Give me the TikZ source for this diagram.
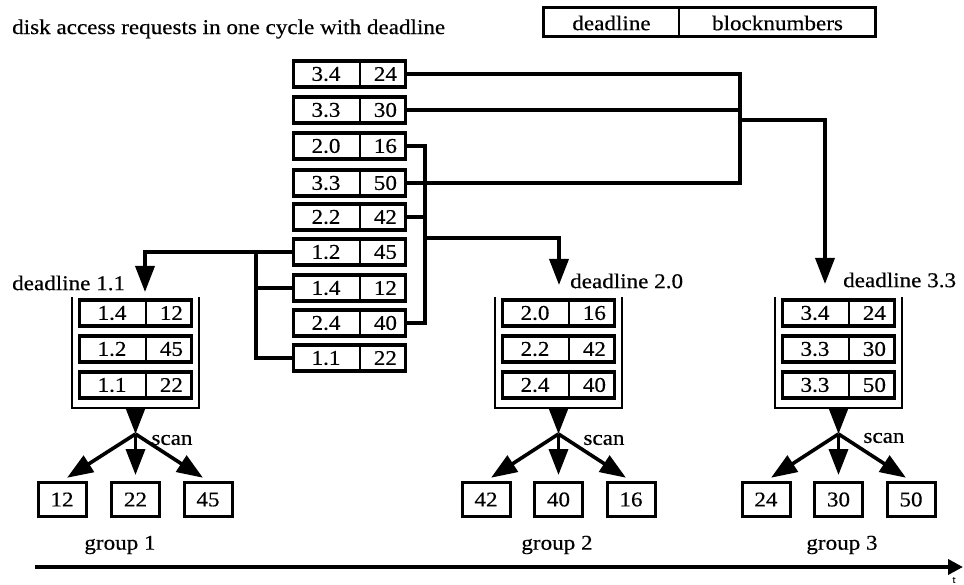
\documentclass[tikz,border=0pt]{standalone}
\usepackage{fontspec}
\setmainfont[FakeStretch=1.1,FakeBold=0.4]{Liberation Serif}
\usetikzlibrary{arrows.meta}
\tikzset{
  pframe/.style={draw, line width=3.4pt, inner sep=0pt, minimum height=26pt, minimum width=112pt, anchor=west},
  divline/.style={line width=2pt},
  txt/.style={inner sep=0pt, font=\fontsize{21}{24}\selectfont},
  conn/.style={line width=3.6pt, line join=miter},
  arr/.style={conn, -{Triangle[length=26pt,width=19pt]}},
  wall/.style={line width=2.4pt},
  outbox/.style={draw, line width=3pt, inner sep=0pt, minimum width=48pt, minimum height=34pt, font=\fontsize{21}{24}\selectfont},
}
% a request record: name, left x, centre y, deadline, block number
\newcommand\pairbox[5]{%
  \node[pframe] (#1) at (#2,#3) {};
  \draw[divline] ([xshift=68pt]#1.north west) -- ([xshift=68pt]#1.south west);
  \node[txt] (#1-d) at ([xshift=34pt]#1.west) {#4};
  \node[txt] (#1-b) at ([xshift=-22pt]#1.east) {#5};
}
\begin{document}
\begin{tikzpicture}[x=1pt,y=-1pt]
\useasboundingbox (0,0) rectangle (964,585);

% heading and legend
\node[txt, anchor=west] (title) at (12,29) {disk access requests in one cycle with deadline};
\node[draw, line width=3pt, inner sep=0pt, minimum width=332pt, minimum height=29pt] (legend) at (709,22.5) {};
\draw[divline] ([xshift=137pt]legend.north west) -- ([xshift=137pt]legend.south west);
\node[txt] (legend-d) at (611.5,23) {deadline};
\node[txt] (legend-b) at (777.5,23) {blocknumbers};

% incoming requests
\pairbox{r1}{292}{74}{3.4}{24}
\pairbox{r2}{292}{110}{3.3}{30}
\pairbox{r3}{292}{146}{2.0}{16}
\pairbox{r4}{292}{183}{3.3}{50}
\pairbox{r5}{292}{217}{2.2}{42}
\pairbox{r6}{292}{252}{1.2}{45}
\pairbox{r7}{292}{288}{1.4}{12}
\pairbox{r8}{292}{323}{2.4}{40}
\pairbox{r9}{292}{358}{1.1}{22}

% routing to deadline 3.3
\coordinate (m3) at (740,120);
\coordinate (in3) at (825,284);
\draw[conn] (r1.east) -- (r1.east -| m3) -- (r4.east -| m3) -- (r4.east);
\draw[conn] (r2.east) -- (r2.east -| m3);
\draw[arr] (m3) -| (in3);

% routing to deadline 2.0
\coordinate (m2) at (425,238);
\coordinate (in2) at (559,285);
\draw[conn] (r3.east) -- (r3.east -| m2) -- (r8.east -| m2) -- (r8.east);
\draw[conn] (r5.east) -- (r5.east -| m2);
\draw[arr] (m2) -| (in2);

% routing to deadline 1.1
\coordinate (m1) at (256,252);
\coordinate (in1) at (145,292);
\draw[conn] (r6.west) -- (m1) -- (r9.west -| m1) -- (r9.west);
\draw[conn] (r7.west) -- (r7.west -| m1);
\draw[arr] (m1) -| (in1);

% deadline labels
\node[txt, anchor=west] (dl1) at (12,283) {deadline 1.1};
\node[txt, anchor=west] (dl2) at (570,281) {deadline 2.0};
\node[txt, anchor=west] (dl3) at (843,280) {deadline 3.3};

% group 1 queue
\draw[wall] (72,297) |- (199,408) -- (199,297);
\pairbox{q11}{78}{313}{1.4}{12}
\pairbox{q12}{78}{349}{1.2}{45}
\pairbox{q13}{78}{385}{1.1}{22}
\coordinate (out1) at (135.5,408);
\coordinate (j1) at (135.5,434);

% group 2 queue
\draw[wall] (495,297) |- (622,408) -- (622,297);
\pairbox{q21}{501}{313}{2.0}{16}
\pairbox{q22}{501}{349}{2.2}{42}
\pairbox{q23}{501}{385}{2.4}{40}
\coordinate (out2) at (558.5,408);
\coordinate (j2) at (558.5,434);

% group 3 queue
\draw[wall] (775,297) |- (902,408) -- (902,297);
\pairbox{q31}{781}{313}{3.4}{24}
\pairbox{q32}{781}{349}{3.3}{30}
\pairbox{q33}{781}{385}{3.3}{50}
\coordinate (out3) at (838.5,408);
\coordinate (j3) at (838.5,434);

% scanned block order
\node[outbox] (o11) at (62,499.5) {12};
\node[outbox] (o12) at (135.5,499.5) {22};
\node[outbox] (o13) at (208,499.5) {45};
\node[outbox] (o21) at (486,499.5) {42};
\node[outbox] (o22) at (558.5,499.5) {40};
\node[outbox] (o23) at (631,499.5) {16};
\node[outbox] (o31) at (766,499.5) {24};
\node[outbox] (o32) at (838.5,499.5) {30};
\node[outbox] (o33) at (911,499.5) {50};

\foreach \g in {1,2,3}{
  \draw[arr] (out\g) -- (j\g);
  \foreach \k in {1,2,3}{
    \draw[arr, shorten >=6pt] (j\g) -- (o\g\k.north);
  }
}

\node[txt] (scan1) at (172,440) {scan};
\node[txt] (scan2) at (604,440) {scan};
\node[txt] (scan3) at (884,438) {scan};

\node[txt] (grp1) at (120,545) {group 1};
\node[txt] (grp2) at (557,545) {group 2};
\node[txt] (grp3) at (842,545) {group 3};

% time axis
\coordinate (t0) at (35,567);
\coordinate (t1) at (963,567);
\draw[line width=3.6pt, -{Triangle[length=15pt,width=15pt]}] (t0) -- (t1);
\node[inner sep=0pt, font=\fontsize{10}{11}\selectfont] (tlabel) at (954,580) {t};
\end{tikzpicture}
\end{document}
